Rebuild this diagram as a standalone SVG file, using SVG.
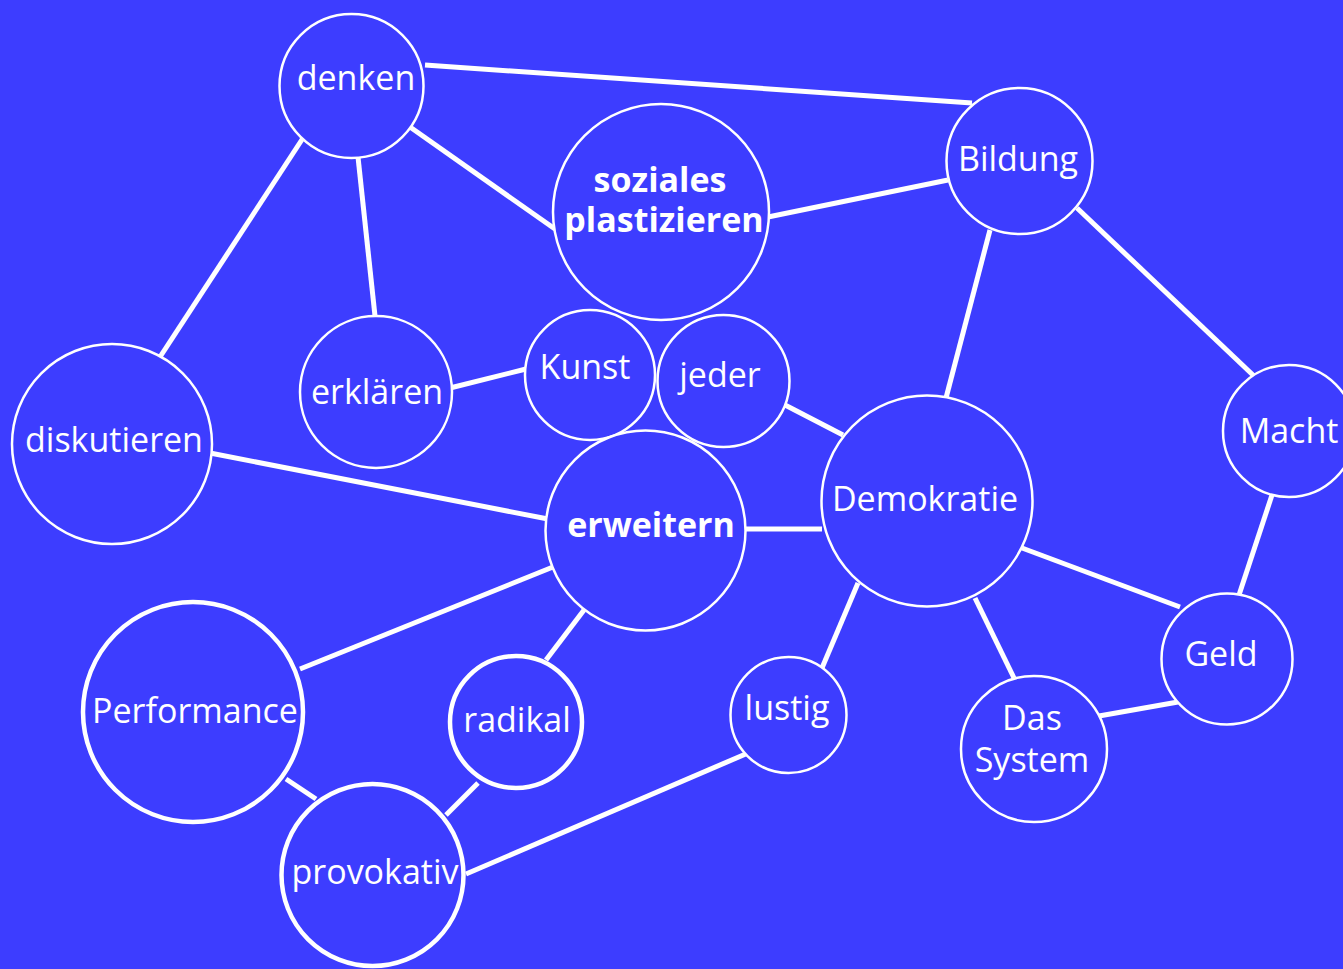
<svg xmlns="http://www.w3.org/2000/svg" width="1343" height="969" viewBox="0 0 1343 969">
  <style>
    .bg { fill: #3d3dff; }
    .edge { stroke: #ffffff; stroke-width: 5; stroke-linecap: butt; fill: none; }
    .node { fill: #3d3dff; stroke: #ffffff; stroke-width: 2.5; }
    .thick { stroke-width: 4.5; }
    .label { fill: #ffffff; font-family: "Open Sans", "Noto Sans", "Liberation Sans", sans-serif; font-size: 34px; text-anchor: middle; }
    .bold { font-weight: bold; }
  </style>
  <rect class="bg" x="0" y="0" width="1343" height="969"/>

  <g id="connectors">
    <line class="edge" x1="425" y1="65" x2="972" y2="103"/>
    <line class="edge" x1="410" y1="127" x2="555" y2="229"/>
    <line class="edge" x1="358" y1="157" x2="375" y2="316"/>
    <line class="edge" x1="303" y1="138" x2="160" y2="357"/>
    <line class="edge" x1="768" y1="217" x2="948" y2="180"/>
    <line class="edge" x1="990" y1="230" x2="946" y2="398"/>
    <line class="edge" x1="1077" y1="208" x2="1254" y2="376"/>
    <line class="edge" x1="1272" y1="495" x2="1239" y2="595"/>
    <line class="edge" x1="450" y1="388" x2="526" y2="369"/>
    <line class="edge" x1="785" y1="405" x2="843" y2="435"/>
    <line class="edge" x1="210" y1="453" x2="548" y2="519"/>
    <line class="edge" x1="745" y1="529" x2="822" y2="529"/>
    <line class="edge" x1="553" y1="567" x2="300" y2="669"/>
    <line class="edge" x1="584" y1="610" x2="546" y2="660"/>
    <line class="edge" x1="1022" y1="548" x2="1180" y2="607"/>
    <line class="edge" x1="858" y1="583" x2="822" y2="668"/>
    <line class="edge" x1="975" y1="598" x2="1014" y2="678"/>
    <line class="edge" x1="1099" y1="716" x2="1178" y2="702"/>
    <line class="edge" x1="286" y1="779" x2="316" y2="799"/>
    <line class="edge" x1="478" y1="783" x2="446" y2="815"/>
    <line class="edge" x1="748" y1="753" x2="466" y2="874"/>
  </g>

  <g id="denken">
    <circle class="node" cx="351.5" cy="86" r="72"/>
    <text class="label" x="356" y="90">denken</text>
  </g>
  <g id="soziales-plastizieren">
    <circle class="node" cx="661" cy="212" r="108"/>
    <text class="label bold" x="660" y="192">soziales</text>
    <text class="label bold" x="664" y="232">plastizieren</text>
  </g>
  <g id="bildung">
    <circle class="node" cx="1019.5" cy="161" r="73"/>
    <text class="label" x="1018" y="171">Bildung</text>
  </g>
  <g id="erklaeren">
    <circle class="node" cx="376" cy="392" r="76"/>
    <text class="label" x="377" y="404">erklären</text>
  </g>
  <g id="kunst">
    <circle class="node" cx="590" cy="375" r="65"/>
    <text class="label" x="585" y="379">Kunst</text>
  </g>
  <g id="jeder">
    <circle class="node" cx="723.5" cy="381" r="66"/>
    <text class="label" x="720" y="387">jeder</text>
  </g>
  <g id="diskutieren">
    <circle class="node" cx="112" cy="444" r="100"/>
    <text class="label" x="114" y="452">diskutieren</text>
  </g>
  <g id="erweitern">
    <circle class="node" cx="645.5" cy="530.5" r="100"/>
    <text class="label bold" x="651" y="537">erweitern</text>
  </g>
  <g id="demokratie">
    <circle class="node" cx="927" cy="501" r="105.5"/>
    <text class="label" x="925" y="511">Demokratie</text>
  </g>
  <g id="macht">
    <circle class="node" cx="1289" cy="431" r="66"/>
    <text class="label" x="1289" y="443">Macht</text>
  </g>
  <g id="geld">
    <circle class="node" cx="1227" cy="659" r="65.5"/>
    <text class="label" x="1221" y="666">Geld</text>
  </g>
  <g id="das-system">
    <circle class="node" cx="1034" cy="749" r="73"/>
    <text class="label" x="1032" y="730">Das</text>
    <text class="label" x="1032" y="772">System</text>
  </g>
  <g id="lustig">
    <circle class="node" cx="788.5" cy="715" r="58"/>
    <text class="label" x="787" y="720">lustig</text>
  </g>
  <g id="radikal">
    <circle class="node thick" cx="516" cy="722" r="66"/>
    <text class="label" x="517" y="732">radikal</text>
  </g>
  <g id="performance">
    <circle class="node thick" cx="193" cy="712" r="110"/>
    <text class="label" x="195" y="723">Performance</text>
  </g>
  <g id="provokativ">
    <circle class="node thick" cx="372.5" cy="875" r="91"/>
    <text class="label" x="375" y="884">provokativ</text>
  </g>
</svg>
